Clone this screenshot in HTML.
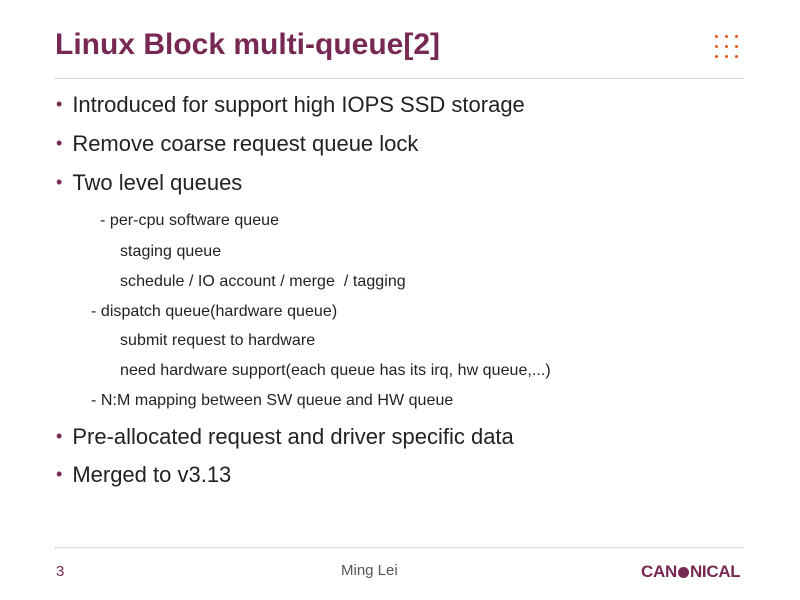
<!DOCTYPE html>
<html><head><style>
body{margin:0;width:800px;height:600px;background:#fff;position:relative;font-family:"Liberation Sans",sans-serif;overflow:hidden}
.a{position:absolute;white-space:nowrap}
.t{left:55px;top:28px;font-size:30px;font-weight:bold;color:#772953;letter-spacing:0px}
.rule{position:absolute;left:55px;width:688px;border-top:1px dotted #bbb}
.b{left:56px;font-size:22px;color:#222;letter-spacing:0px}
.b span{color:#772953;font-size:18px;position:relative;top:-2px;margin-right:10px}
.s{font-size:16px;color:#222;letter-spacing:0.05px}
.dot{position:absolute;width:3px;height:3px;border-radius:50%;background:#e05a1c}
</style></head><body>
<div class="a t">Linux Block multi-queue[2]</div>
<div class="rule" style="top:78px"></div>
<div class="a b" style="top:92px"><span>•</span>Introduced for support high IOPS SSD storage</div>
<div class="a b" style="top:131px"><span>•</span>Remove coarse request queue lock</div>
<div class="a b" style="top:170px"><span>•</span>Two level queues</div>
<div class="a s" style="left:100px;top:212px">- per-cpu software queue</div>
<div class="a s" style="left:120px;top:243px">staging queue</div>
<div class="a s" style="left:120px;top:273px">schedule / IO account / merge&nbsp; / tagging</div>
<div class="a s" style="left:91px;top:303px">- dispatch queue(hardware queue)</div>
<div class="a s" style="left:120px;top:332px">submit request to hardware</div>
<div class="a s" style="left:120px;top:362px">need hardware support(each queue has its irq, hw queue,...)</div>
<div class="a s" style="left:91px;top:392px">- N:M mapping between SW queue and HW queue</div>
<div class="a b" style="top:424px"><span>•</span>Pre-allocated request and driver specific data</div>
<div class="a b" style="top:462px"><span>•</span>Merged to v3.13</div>
<div class="rule" style="top:547px"></div>
<div class="a" style="left:56px;top:563px;font-size:15px;color:#772953">3</div>
<div class="a" style="left:341px;top:562px;font-size:15px;color:#555">Ming Lei</div>
<div class="a" style="left:641px;top:562px;font-size:17px;font-weight:bold;color:#772953;letter-spacing:-0.3px">CAN<span style="display:inline-block;width:11px;height:11px;border-radius:50%;background:#772953;vertical-align:-1px;margin:0 1px"></span>NICAL</div>
<div class="dot" style="left:715px;top:35px"></div><div class="dot" style="left:725px;top:35px"></div><div class="dot" style="left:735px;top:35px"></div>
<div class="dot" style="left:715px;top:45px"></div><div class="dot" style="left:725px;top:45px"></div><div class="dot" style="left:735px;top:45px"></div>
<div class="dot" style="left:715px;top:55px"></div><div class="dot" style="left:725px;top:55px"></div><div class="dot" style="left:735px;top:55px"></div>
</body></html>
